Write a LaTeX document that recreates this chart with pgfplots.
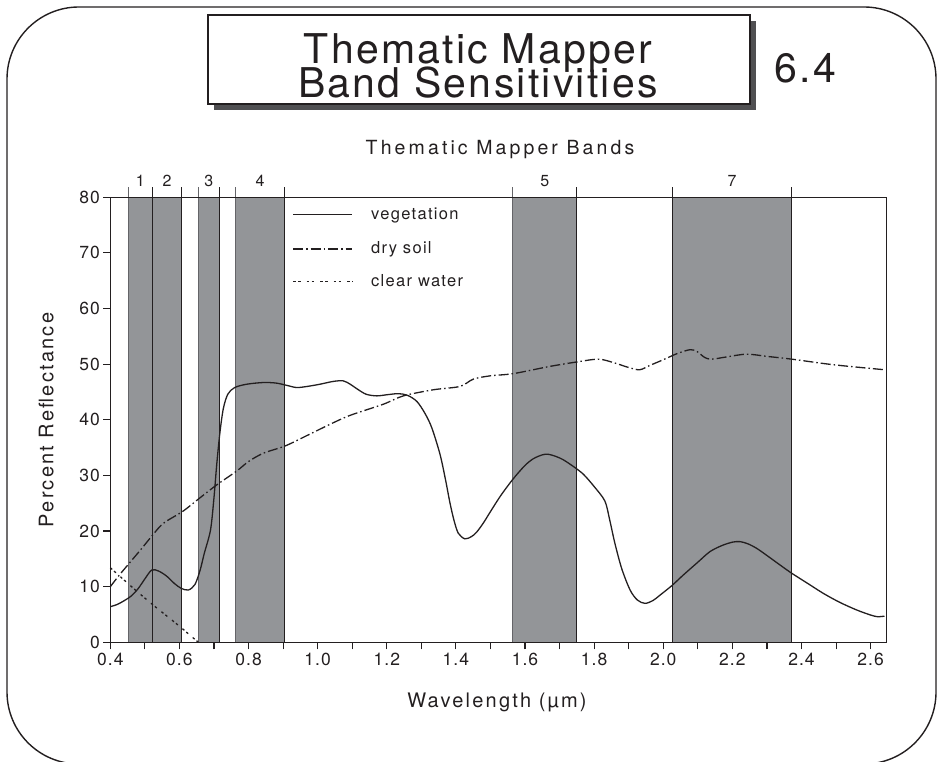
\documentclass[border=0pt]{standalone}
\usepackage{fontspec}
\setmainfont{TeX Gyre Heros}
\newfontfamily\titlefont[LetterSpace=5.5]{TeX Gyre Heros}
\newfontfamily\labelfont[LetterSpace=11]{TeX Gyre Heros}
\newfontfamily\headfont[LetterSpace=16]{TeX Gyre Heros}
\newfontfamily\tickfont[LetterSpace=6]{TeX Gyre Heros}
\newfontfamily\legfont[LetterSpace=8]{TeX Gyre Heros}
\usepackage{pgfplots}
\pgfplotsset{compat=1.18}

\definecolor{ink}{RGB}{35,31,32}
\definecolor{bandgray}{RGB}{147,149,152}
\definecolor{edgegray}{RGB}{100,100,104}
\definecolor{shadow}{RGB}{80,80,82}

% Landsat TM spectral bands (micrometres)
\pgfplotstableread{
lo     hi     mid
0.452  0.522  0.487
0.522  0.607  0.564
0.655  0.715  0.685
0.761  0.905  0.833
1.564  1.749  1.657
2.026  2.372  2.199
}\bands

\begin{document}
\begin{tikzpicture}[x=1pt,y=1pt]
\clip (0,0) rectangle (939,762);
% rounded page frame
\draw[ink, line width=1.4pt, rounded corners=72pt] (7,-2) rectangle (936,755);
% title box with drop shadow
\fill[shadow] (214,652) rectangle (756,741);
\draw[ink, fill=white, line width=1.2pt] (208,658) rectangle (750,747);
\node[anchor=base, text=ink, inner sep=0pt, font=\titlefont\fontsize{41}{41}\selectfont] at (478,698) {Thematic Mapper};
\node[anchor=base, text=ink, inner sep=0pt, font=\titlefont\fontsize{41}{41}\selectfont] at (478,664) {Band Sensitivities};
\node[anchor=base, text=ink, font=\titlefont\fontsize{41}{41}\selectfont] at (805.5,679) {6.4};
% axis titles
\node[anchor=base, text=ink, font=\headfont\fontsize{19.5}{19.5}\selectfont] at (500,607) {Thematic Mapper Bands};
\node[anchor=base, text=ink, font=\labelfont\fontsize{20}{20}\selectfont] at (497,54.7) {Wavelength (µm)};
\node[anchor=base, rotate=90, text=ink, font=\labelfont\fontsize{20}{20}\selectfont] at (53.3,342) {Percent Reflectance};

\begin{axis}[
  at={(110.3pt,119.7pt)}, anchor=south west,
  scale only axis, width=776.4pt, height=445pt,
  xmin=0.4, xmax=2.6465, ymin=0, ymax=80,
  xtick={0.4,0.6,0.8,1.0,1.2,1.4,1.6,1.8,2.0,2.2,2.4,2.6},
  minor xtick={0.5,0.7,0.9,1.1,1.3,1.5,1.7,1.9,2.1,2.3,2.5},
  ytick={0,10,20,30,40,50,60,70,80},
  xticklabel style={/pgf/number format/.cd, fixed, fixed zerofill, precision=1},
  /pgf/number format/assume math mode=true,
  tick label style={font=\tickfont\fontsize{17.5}{17.5}\selectfont, text=ink},
  tick align=outside, tick pos=left,
  major tick length=7pt, minor tick length=7pt,
  every tick/.style={ink, line width=1.1pt},
  axis line style={ink, line width=1.3pt},
  axis on top, clip=false,
]
% shaded band windows
\pgfplotsinvokeforeach{0,...,5}{
  \pgfplotstablegetelem{#1}{lo}\of\bands \edef\blo{\pgfplotsretval}
  \pgfplotstablegetelem{#1}{hi}\of\bands \edef\bhi{\pgfplotsretval}
  \edef\temp{\noexpand\addplot[fill=bandgray, draw=none, forget plot]
    coordinates {(\blo,0) (\blo,80) (\bhi,80) (\bhi,0)} -- cycle;}
  \temp
}
% band edges, carried above the frame
\addplot[edgegray, line width=1pt, forget plot] coordinates {(0.452,0) (0.452,81.9)};
\addplot[ink, line width=1pt, forget plot] coordinates {(0.522,0) (0.522,81.9)};
\addplot[ink, line width=1pt, forget plot] coordinates {(0.607,0) (0.607,81.9)};
\addplot[edgegray, line width=1pt, forget plot] coordinates {(0.655,0) (0.655,81.9)};
\addplot[ink, line width=1pt, forget plot] coordinates {(0.715,0) (0.715,81.9)};
\addplot[edgegray, line width=1pt, forget plot] coordinates {(0.761,0) (0.761,81.9)};
\addplot[ink, line width=1pt, forget plot] coordinates {(0.905,0) (0.905,81.9)};
\addplot[edgegray, line width=1pt, forget plot] coordinates {(1.564,0) (1.564,81.9)};
\addplot[ink, line width=1pt, forget plot] coordinates {(1.749,0) (1.749,81.9)};
\addplot[ink, line width=1pt, forget plot] coordinates {(2.026,0) (2.026,81.9)};
\addplot[ink, line width=1pt, forget plot] coordinates {(2.372,0) (2.372,81.9)};
% band numbers
\node[anchor=base, text=ink, font=\fontsize{16}{16}\selectfont] at (axis cs:0.487,81.9) {1};
\node[anchor=base, text=ink, font=\fontsize{16}{16}\selectfont] at (axis cs:0.564,81.9) {2};
\node[anchor=base, text=ink, font=\fontsize{16}{16}\selectfont] at (axis cs:0.685,81.9) {3};
\node[anchor=base, text=ink, font=\fontsize{16}{16}\selectfont] at (axis cs:0.833,81.9) {4};
\node[anchor=base, text=ink, font=\fontsize{16}{16}\selectfont] at (axis cs:1.657,81.9) {5};
\node[anchor=base, text=ink, font=\fontsize{16}{16}\selectfont] at (axis cs:2.199,81.9) {7};

% vegetation
\addplot[ink, line width=1.3pt, smooth] coordinates {
(0.400,6.4) (0.420,6.8) (0.438,7.4) (0.460,8.3) (0.480,9.6) (0.500,11.4)
(0.520,13.0) (0.540,12.8) (0.563,11.9) (0.585,10.6) (0.605,9.7) (0.626,9.4)
(0.645,10.4) (0.660,13.0) (0.672,16.0) (0.690,20.2) (0.700,26.0) (0.708,32.0)
(0.717,37.6) (0.727,42.0) (0.740,44.6) (0.760,45.8) (0.795,46.4) (0.843,46.7)
(0.880,46.6) (0.910,46.2) (0.939,45.8) (0.970,46.0) (1.007,46.4) (1.045,46.9)
(1.074,47.0) (1.094,46.4) (1.113,45.6) (1.140,44.6) (1.171,44.3) (1.200,44.5)
(1.233,44.7) (1.260,44.4) (1.287,43.3) (1.310,41.2) (1.330,38.6) (1.354,33.8)
(1.370,29.2) (1.383,25.0) (1.395,21.8) (1.407,19.6) (1.426,18.6) (1.445,19.0)
(1.460,19.8) (1.480,21.5) (1.499,23.4) (1.530,26.4) (1.566,29.4) (1.600,31.8)
(1.624,33.0) (1.650,33.7) (1.667,33.8) (1.690,33.4) (1.711,32.8) (1.740,31.6)
(1.769,30.2) (1.800,28.0) (1.831,25.4) (1.845,22.0) (1.860,17.8) (1.880,13.2)
(1.904,9.4) (1.925,7.6) (1.947,7.0) (1.970,7.5) (1.991,8.5) (2.025,10.2)
(2.058,12.1) (2.100,14.4) (2.135,16.3) (2.170,17.4) (2.200,18.0) (2.222,18.1)
(2.245,17.7) (2.270,16.9) (2.300,15.6) (2.340,13.8) (2.372,12.4) (2.420,10.5)
(2.463,8.8) (2.510,7.2) (2.560,5.8) (2.600,4.9) (2.620,4.6) (2.640,4.7)
};
% dry soil
\addplot[ink, line width=1.3pt, smooth, dash pattern=on 10pt off 3pt on 1.5pt off 3pt] coordinates {
(0.400,10.0) (0.425,12.0) (0.452,14.0) (0.490,16.8) (0.524,19.4) (0.545,20.9)
(0.563,21.8) (0.611,23.6) (0.660,26.0) (0.708,28.3) (0.766,30.8) (0.800,32.5)
(0.843,34.0) (0.906,35.3) (0.970,37.2) (1.036,39.2) (1.094,40.8) (1.190,42.8)
(1.248,44.3) (1.335,45.4) (1.412,46.0) (1.450,47.3) (1.499,47.9) (1.566,48.3)
(1.672,49.6) (1.750,50.4) (1.812,50.9) (1.855,50.3) (1.900,49.4) (1.932,49.0)
(1.962,49.8) (2.000,50.8) (2.040,51.9) (2.077,52.6) (2.097,52.3) (2.120,51.2)
(2.140,50.9) (2.183,51.3) (2.241,51.8) (2.300,51.4) (2.372,50.9) (2.492,49.9)
(2.640,49.0)
};
% clear water
\addplot[ink, line width=1.3pt, smooth, dash pattern=on 2.5pt off 2.5pt on 2.5pt off 6pt] coordinates {
(0.400,13.4) (0.447,10.8) (0.480,9.0) (0.524,6.7) (0.560,4.9) (0.602,2.8)
(0.630,1.3) (0.655,0.0)
};

% key
\addplot[ink, line width=1.3pt, forget plot] coordinates {(0.9287,76.85) (1.0995,76.85)};
\addplot[ink, line width=1.3pt, forget plot, dash pattern=on 10pt off 3pt on 1.5pt off 3pt] coordinates {(0.9287,70.7) (1.0995,70.7)};
\addplot[ink, line width=1.3pt, forget plot, dash pattern=on 2.5pt off 2.5pt on 2.5pt off 6pt] coordinates {(0.9287,64.8) (1.0995,64.8)};
\node[anchor=base west, inner sep=0pt, text=ink, font=\legfont\fontsize{16.5}{16.5}\selectfont] at (axis cs:1.154,76.0) {vegetation};
\node[anchor=base west, inner sep=0pt, text=ink, font=\legfont\fontsize{16.5}{16.5}\selectfont] at (axis cs:1.154,69.85) {dry soil};
\node[anchor=base west, inner sep=0pt, text=ink, font=\legfont\fontsize{16.5}{16.5}\selectfont] at (axis cs:1.154,63.95) {clear water};
\end{axis}
\end{tikzpicture}
\end{document}
